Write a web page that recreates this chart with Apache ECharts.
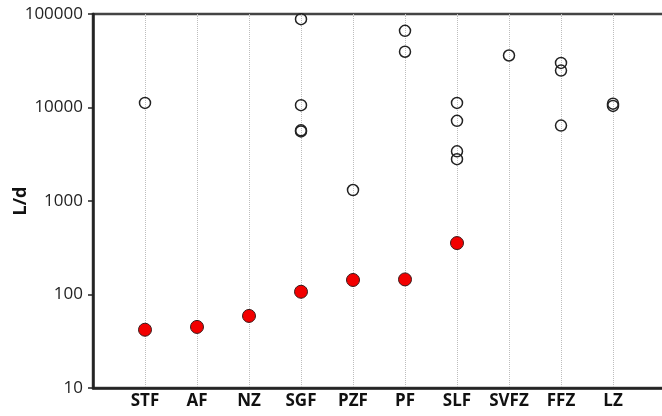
<!DOCTYPE html>
<html>
<head>
<meta charset="utf-8">
<script src="https://cdn.jsdelivr.net/npm/echarts@6/dist/echarts.min.js"></script>
<style>
  html, body { margin: 0; padding: 0; background: #fff; }
  #chart { width: 662px; height: 416px; }
</style>
</head>
<body>
<div id="chart"></div>
<script>
// categories (blank slots at both ends keep the spacing of the original)
const categories = ['', 'STF', 'AF', 'NZ', 'SGF', 'PZF', 'PF', 'SLF', 'SVFZ', 'FFZ', 'LZ', ''];

// open circles: [category, L/d]
const openCat = ['STF', 'SGF', 'SGF', 'SGF', 'SGF', 'PZF', 'PF', 'PF',
  'SLF', 'SLF', 'SLF', 'SLF', 'SVFZ', 'FFZ', 'FFZ', 'FFZ', 'LZ', 'LZ'];
const openVal = [11200, 88000, 10600, 5700, 5550, 1310, 66000, 39500,
  11200, 7200, 3400, 2800, 36000, 30000, 24800, 6400, 11000, 10400];

// red filled circles
const redCat = ['STF', 'AF', 'NZ', 'SGF', 'PZF', 'PF', 'SLF'];
const redVal = [42, 45, 59, 107, 143, 145, 355];

const yTicks = [10, 100, 1000, 10000, 100000];

const chart = echarts.init(document.getElementById('chart'));

const option = {
  animation: false,
  grid: {
    left: 93, right: -3, top: 14, bottom: 28,
    outerBoundsMode: 'none',
    containLabel: false,
    show: true, borderColor: '#444', borderWidth: 2.5, backgroundColor: 'transparent'
  },
  xAxis: {
    type: 'category',
    data: categories,
    boundaryGap: false,
    axisLine: { lineStyle: { color: '#222', width: 2.5 } },
    axisTick: { show: false },
    axisLabel: {
      color: '#111', fontSize: 17, fontWeight: 'bold',
      fontFamily: 'Open Sans', margin: 5, interval: 0
    },
    splitLine: { show: true, lineStyle: { color: '#bdbdbd', type: 'dotted', width: 1 } }
  },
  yAxis: {
    type: 'log',
    logBase: 10,
    min: yTicks[0],
    max: yTicks[yTicks.length - 1],
    name: 'L/d',
    nameLocation: 'middle',
    nameGap: 63,
    nameMoveOverlap: false,
    nameTextStyle: { color: '#111', fontSize: 18, fontWeight: 'bold', fontFamily: 'Open Sans' },
    axisLine: { show: true, lineStyle: { color: '#222', width: 2.5 } },
    axisTick: { show: true, length: 5, lineStyle: { color: '#222', width: 1.5 } },
    axisLabel: {
      color: '#222', fontSize: 17, fontFamily: 'Open Sans', margin: 10,
      formatter: v => String(Math.round(v))
    },
    splitLine: { show: false },
    minorTick: { show: false }
  },
  series: [
    {
      type: 'scatter',
      data: openCat.map((c, i) => [c, openVal[i]]),
      symbol: 'circle',
      symbolSize: 11,
      itemStyle: { color: 'rgba(255,255,255,0)', borderColor: '#222', borderWidth: 1.5, opacity: 1 },
      z: 3
    },
    {
      type: 'scatter',
      data: redCat.map((c, i) => [c, redVal[i]]),
      symbol: 'circle',
      symbolSize: 13,
      itemStyle: { color: '#f20000', borderColor: '#3a1a1a', borderWidth: 1, opacity: 1 },
      z: 4
    }
  ]
};

chart.setOption(option);
</script>
</body>
</html>
